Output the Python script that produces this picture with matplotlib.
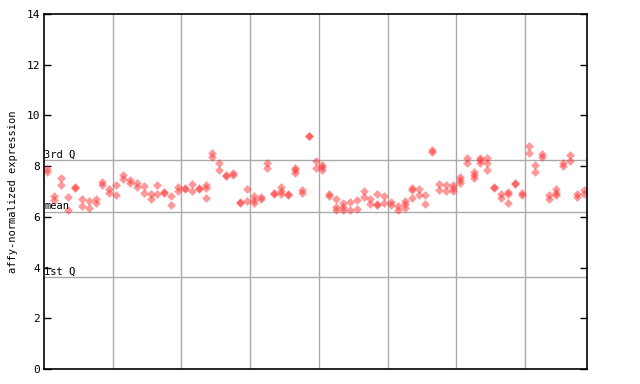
import matplotlib
matplotlib.use("Agg")
import matplotlib.pyplot as plt

# replicate values per sample column (79 columns, 8 groups)
expr_values = [
    [7.89, 7.78], [6.81, 6.66], [7.55, 7.25], [6.79, 6.26], [7.18, 7.14],
    [6.72, 6.43], [6.62, 6.33], [6.72, 6.56], [7.38, 7.27], [7.08, 6.94],
    [7.25, 6.85], [7.67, 7.51], [7.44, 7.34], [7.34, 7.16], [7.21, 6.94],
    [6.92, 6.72], [7.25, 6.89], [6.98, 6.94], [6.83, 6.46], [7.16, 7.02],
    [7.14, 7.09], [7.29, 7.01], [7.15, 7.10], [7.27, 7.12, 6.76], [8.53, 8.36],
    [8.13, 7.86], [7.61, 7.65], [7.71, 7.66], [6.60, 6.55], [7.09, 6.62],
    [6.81, 6.68, 6.55], [6.80, 6.72], [8.13, 7.94], [6.96, 6.92], [7.16, 7.02, 6.92],
    [6.89, 6.85], [7.93, 7.84, 7.71], [7.05, 6.94], [9.20, 9.17], [8.20, 7.94],
    [8.03, 7.97, 7.84], [6.92, 6.81], [6.72, 6.39, 6.29], [6.55, 6.37, 6.26], [6.59, 6.26],
    [6.66, 6.31], [7.02, 6.79], [6.70, 6.52], [6.89, 6.52, 6.45], [6.81, 6.56],
    [6.59, 6.46], [6.42, 6.26], [6.62, 6.49, 6.34], [7.12, 7.05, 6.76], [7.08, 6.88],
    [6.88, 6.52], [8.62, 8.55], [7.31, 7.04], [7.27, 7.01], [7.25, 7.12, 7.01],
    [7.57, 7.44, 7.34], [8.34, 8.13], [7.77, 7.64, 7.54], [8.34, 8.23, 8.13], [8.34, 8.14, 7.86],
    [7.18, 7.14], [6.92, 6.75], [6.98, 6.89, 6.56], [7.33, 7.29], [6.96, 6.85],
    [8.80, 8.53], [8.06, 7.77], [8.47, 8.36], [6.85, 6.72], [7.08, 6.94, 6.85],
    [8.13, 8.00], [8.43, 8.20], [6.92, 6.79], [7.05, 6.92],
]
group_sizes = [10, 10, 10, 10, 10, 10, 10, 9]
q1_value = 3.61
mean_value = 6.21
q3_value = 8.23
y_ticks = [0, 2, 4, 6, 8, 10, 12, 14]
y_label = "affy-normalized expression"

mono = "DejaVu Sans Mono"
fig = plt.figure(figsize=(6.4, 3.84), dpi=100)
ax = fig.add_axes([44 / 640, 15 / 384, 543 / 640, 355 / 384])

n = len(expr_values)
ax.set_xlim(-0.5, n - 0.5)
ax.set_ylim(0, 14)

# group boundaries
pos = 0
for s in group_sizes[:-1]:
    pos += s
    ax.axvline(pos - 0.5, color="#aaaaaa", lw=1, zorder=1)

for val, lab in [(q3_value, "3rd Q"), (mean_value, "mean"), (q1_value, "1st Q")]:
    ax.axhline(val, color="#aaaaaa", lw=1, zorder=1)
    ax.text(-0.45, val + 0.04, lab, fontsize=7.5, family=mono, va="bottom", ha="left", zorder=3)

xs, ys = [], []
for i, col in enumerate(expr_values):
    for v in col:
        xs.append(i)
        ys.append(v)
ax.scatter(xs, ys, marker="D", s=20, color="#ff3333", alpha=0.5, linewidths=0, zorder=2)

ax.set_yticks(y_ticks)
ax.set_yticklabels([str(t) for t in y_ticks], family=mono, fontsize=8)
ax.set_xticks([])
ax.tick_params(axis="y", direction="in", length=5, width=1, right=True, left=True, pad=3)
for sp in ax.spines.values():
    sp.set_linewidth(1.2)
    sp.set_color("black")
ax.set_ylabel(y_label, family=mono, fontsize=7.5, labelpad=6)

fig.savefig("out.png", dpi=100)
